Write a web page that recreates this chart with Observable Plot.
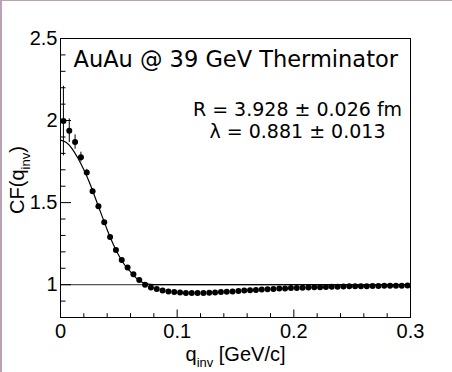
<!DOCTYPE html>
<html>
<head>
<meta charset="utf-8">
<script src="https://cdn.jsdelivr.net/npm/d3@7"></script>
<script src="https://cdn.jsdelivr.net/npm/@observablehq/plot@0.6"></script>
<style>
  html, body { margin: 0; padding: 0; background: white; overflow: hidden; }
  #wrap { position: relative; width: 452px; height: 372px; overflow: hidden; }
  #edgeL { position: absolute; left: 0; top: 0; width: 2px; height: 372px; background: #b8a3b3; }
  #edgeT { position: absolute; left: 0; top: 0; width: 452px; height: 1px; background: #b8a3b3; }
  svg { display: block; }
</style>
</head>
<body>
<div id="wrap"><div id="edgeL"></div><div id="edgeT"></div></div>
<script>
// ---- data ----
const qInv = [0.0025,0.0075,0.0125,0.0175,0.0225,0.0275,0.0325,0.0375,0.0425,0.0475,
              0.0525,0.0575,0.0625,0.0675,0.0725,0.0775,0.0825,0.0875,0.0925,0.0975,
              0.1025,0.1075,0.1125,0.1175,0.1225,0.1275,0.1325,0.1375,0.1425,0.1475,
              0.1525,0.1575,0.1625,0.1675,0.1725,0.1775,0.1825,0.1875,0.1925,0.1975,
              0.2025,0.2075,0.2125,0.2175,0.2225,0.2275,0.2325,0.2375,0.2425,0.2475,
              0.2525,0.2575,0.2625,0.2675,0.2725,0.2775,0.2825,0.2875,0.2925,0.2975];
const cf = [1.997,1.938,1.869,1.777,1.683,1.570,1.478,1.380,1.290,1.212,
            1.151,1.104,1.063,1.028,1.000,0.983,0.973,0.965,0.959,0.955,
            0.952,0.950,0.949,0.949,0.950,0.951,0.953,0.955,0.957,0.959,
            0.962,0.964,0.966,0.968,0.970,0.972,0.974,0.976,0.977,0.979,
            0.980,0.982,0.983,0.984,0.985,0.986,0.987,0.988,0.989,0.990,
            0.990,0.991,0.991,0.992,0.992,0.993,0.993,0.994,0.994,0.995];
const cfErr = [0.212,0.072,0.044,0.030,0.020,0.015,0.012,0.010,0.008,0.007,
               0.006,0.005,0.005,0.004,0.004,0.004,0.003,0.003,0.003,0.003,
               0.003,0.003,0.003,0.003,0.003,0.003,0.003,0.003,0.003,0.003,
               0.003,0.003,0.003,0.003,0.003,0.003,0.003,0.003,0.003,0.003,
               0.003,0.003,0.003,0.003,0.003,0.003,0.003,0.003,0.003,0.003,
               0.003,0.003,0.003,0.003,0.003,0.003,0.003,0.003,0.003,0.003];
const fitQ  = [0.000,0.005,0.010,0.015,0.020,0.025,0.030,0.035,0.040,0.045,0.050,0.055,0.060,0.065,0.070,0.075,0.080,0.300];
const fitCF = [1.881,1.866,1.828,1.770,1.700,1.620,1.525,1.430,1.335,1.250,1.178,1.120,1.078,1.040,1.015,1.003,1.000,1.000];
const xMajor = [0, 0.1, 0.2, 0.3];
const xMinor = [0.02,0.04,0.06,0.08,0.12,0.14,0.16,0.18,0.22,0.24,0.26,0.28];
const yMajor = [1, 1.5, 2, 2.5];
const yMinor = [0.8,0.9,1.1,1.2,1.3,1.4,1.6,1.7,1.8,1.9,2.1,2.2,2.3,2.4];
const title = "AuAu @ 39 GeV Therminator";
const fitText = ["R = 3.928 ± 0.026 fm", "λ = 0.881 ± 0.013"];

const points = qInv.map((q, i) => ({q, cf: cf[i], err: cfErr[i]}));
const fit = fitQ.map((q, i) => ({q, cf: fitCF[i]}));

const W = 452, H = 372, mL = 60, mR = 42, mT = 38, mB = 55;
const fw = W - mL - mR, fh = H - mT - mB;

const chart = Plot.plot({
  width: W, height: H,
  marginLeft: mL, marginRight: mR, marginTop: mT, marginBottom: mB,
  style: {fontFamily: "'Liberation Sans', Arial, sans-serif", fontSize: "20px", background: "white", color: "black"},
  x: {domain: [0, 0.3], axis: null, label: null},
  y: {domain: [0.8, 2.5], axis: null, label: null},
  marks: [
    Plot.ruleY([1], {stroke: "#555", strokeWidth: 1.3}),
    Plot.line(fit, {x: "q", y: "cf", curve: "monotone-x", stroke: "black", strokeWidth: 1.2}),
    Plot.ruleX(points, {x: "q", y1: d => d.cf - d.err, y2: d => d.cf + d.err, stroke: "black", strokeWidth: 1}),
    Plot.dot(points, {x: "q", y: "cf", r: 3, fill: "black", stroke: "none"}),
    // ticks (inward)
    Plot.tickX(xMajor, {x: d => d, insetTop: fh - 7.5, stroke: "black"}),
    Plot.tickX(xMinor, {x: d => d, insetTop: fh - 3.8, stroke: "black"}),
    Plot.tickY(yMajor, {y: d => d, insetRight: fw - 11, stroke: "black"}),
    Plot.tickY(yMinor, {y: d => d, insetRight: fw - 5.5, stroke: "black"}),
    Plot.frame({stroke: "black"}),
    Plot.axisX(xMajor, {tickSize: 0, tickPadding: 6, tickFormat: d3.format(""), label: null}),
    Plot.axisY(yMajor, {tickSize: 0, tickPadding: 3, tickFormat: d3.format(""), label: null}),
    // annotations
    Plot.text([title], {text: d => d, frameAnchor: "top-left", textAnchor: "start", lineAnchor: "bottom",
      dx: 13, dy: 28, fontFamily: "'DejaVu Sans', sans-serif", fontSize: 22.5}),
    Plot.text([fitText[0]], {text: d => d, frameAnchor: "top-left", textAnchor: "middle", lineAnchor: "bottom",
      dx: 237, dy: 77, fontFamily: "'DejaVu Sans', sans-serif", fontSize: 19}),
    Plot.text([fitText[1]], {text: d => d, frameAnchor: "top-left", textAnchor: "middle", lineAnchor: "bottom",
      dx: 237, dy: 99, fontFamily: "'DejaVu Sans', sans-serif", fontSize: 19}),
    Plot.text(["xtitle"], {text: d => d, frameAnchor: "bottom", textAnchor: "middle", lineAnchor: "bottom",
      dy: 43, fontSize: 20}),
    Plot.text(["ytitle"], {text: d => d, frameAnchor: "left", textAnchor: "middle", lineAnchor: "bottom",
      rotate: -90, dx: -37, dy: 2, fontSize: 20})
  ]
});

// rich subscripts for axis titles
const svg = d3.select(chart);
svg.selectAll("text").each(function() {
  const t = d3.select(this);
  const s = t.text();
  if (s === "xtitle" || s === "ytitle") {
    t.text(null);
    if (s === "xtitle") {
      t.append("tspan").text("q");
      t.append("tspan").attr("font-size", 13).attr("dy", 6).text("inv");
      t.append("tspan").attr("dy", -6).text(" [GeV/c]");
    } else {
      t.append("tspan").text("CF(q");
      t.append("tspan").attr("font-size", 13).attr("dy", 6).text("inv");
      t.append("tspan").attr("dy", -6).text(")");
    }
  }
});

document.getElementById("wrap").insertBefore(chart, document.getElementById("edgeL"));
</script>
</body>
</html>
